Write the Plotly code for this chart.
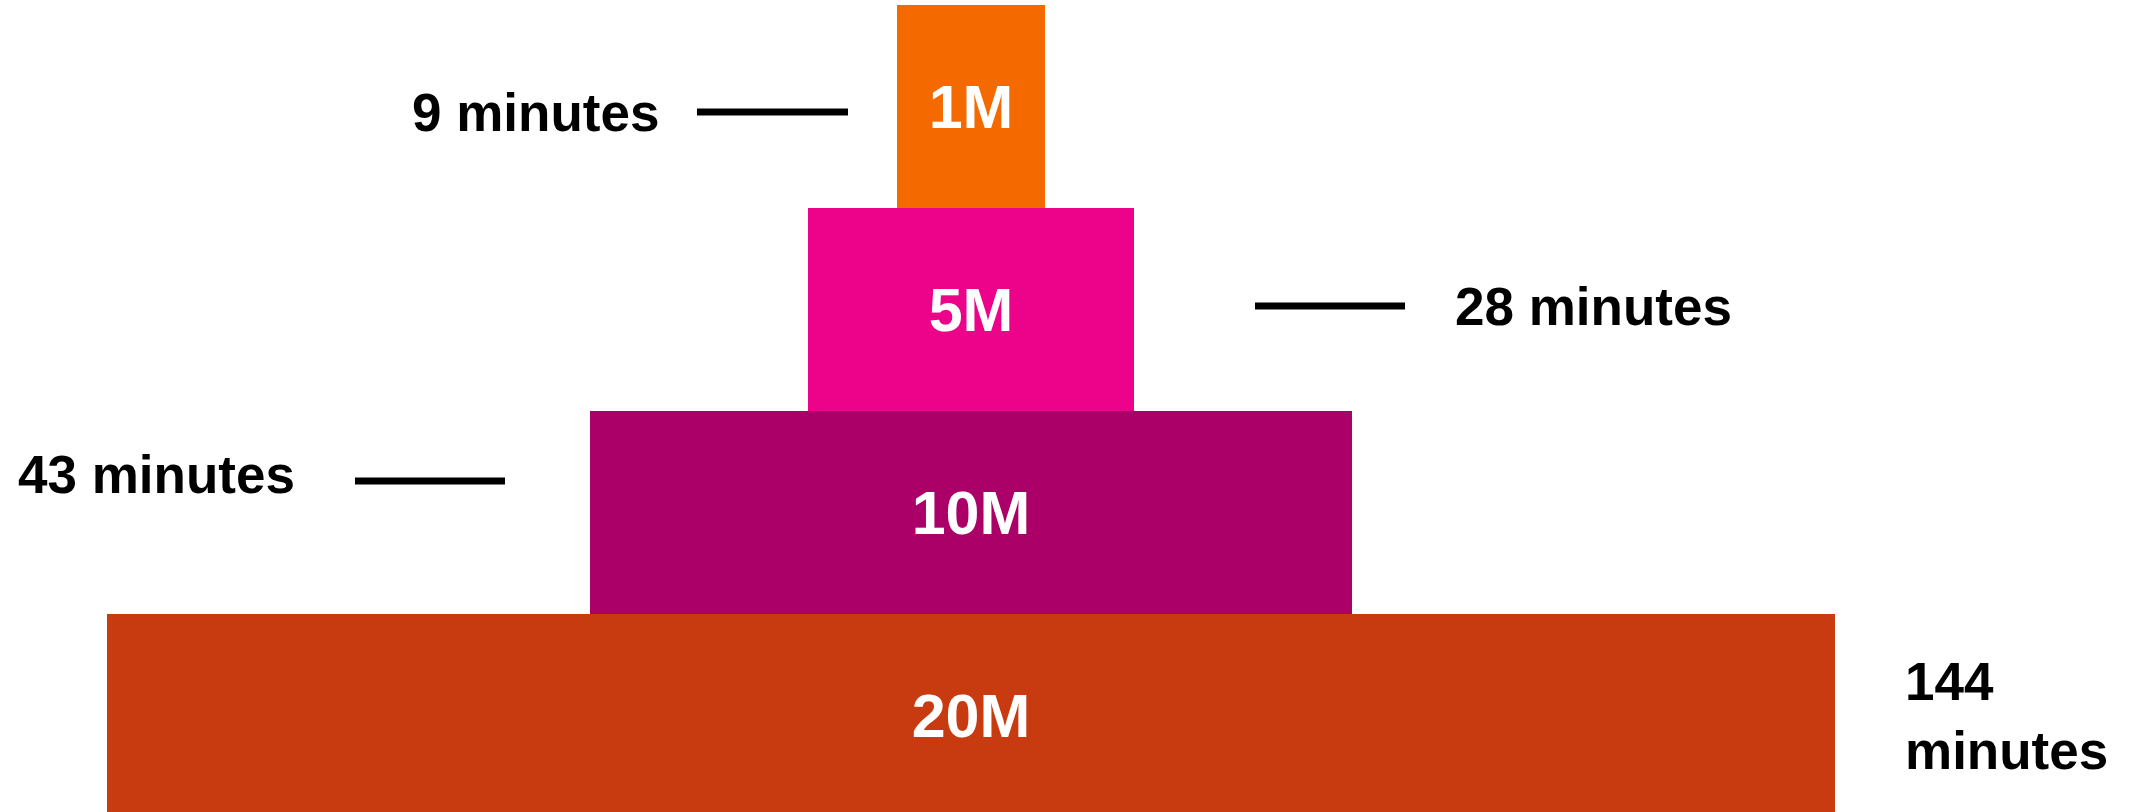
import plotly.graph_objects as go

# ---- data ----
categories = ["1M", "5M", "10M", "20M"]
minutes = [9, 28, 43, 144]
bar_width = [1.48, 3.26, 7.62, 17.28]          # relative widths of the pyramid steps
bar_colors = ["#F46A00", "#EC038A", "#AA0068", "#C83B10"]

W, H = 2134, 812

fig = go.Figure()
fig.add_trace(go.Bar(
    y=categories,
    x=bar_width,
    base=[-w / 2 for w in bar_width],
    orientation="h",
    marker=dict(color=bar_colors, line=dict(width=0)),
    text=categories,
    textposition="inside",
    insidetextanchor="middle",
    textangle=0,
    textfont=dict(family="Liberation Sans, Arial, sans-serif", size=61, color="white", weight="bold"),
    hoverinfo="skip",
    cliponaxis=False,
))

# time labels (side annotations) and their connector lines
label_font = dict(family="Liberation Sans, Arial, sans-serif", size=53, color="black", weight="bold")
labels = [f"{m} minutes" for m in minutes]

# (x_px, y_px, xanchor) per label
label_pos = [(661, 112, "right"), (1453, 306, "left"), (16, 474, "left"), (1903, 716, "left")]
line_pos = [(697, 848, 112), (1255, 1405, 306), (355, 505, 481)]

for i, (txt, (px, py, anc)) in enumerate(zip(labels, label_pos)):
    if i == 3:
        txt = txt.replace(" ", "<br>")
    fig.add_annotation(
        x=px / W, y=1 - py / H, xref="paper", yref="paper",
        text=txt, showarrow=False, xanchor=anc, yanchor="middle",
        align="left", font=label_font,
    )

for x0, x1, py in line_pos:
    fig.add_shape(
        type="line", xref="paper", yref="paper",
        x0=x0 / W, x1=x1 / W, y0=1 - py / H, y1=1 - py / H,
        line=dict(color="black", width=7),
    )

center_px = 971
fig.update_layout(
    width=W, height=H,
    margin=dict(l=0, r=0, t=0, b=0),
    paper_bgcolor="white", plot_bgcolor="white",
    showlegend=False,
    bargap=0,
    xaxis=dict(range=[-center_px / 100, (W - center_px) / 100], visible=False, fixedrange=True),
    yaxis=dict(range=[3.4754, -0.5246], visible=False, fixedrange=True,
               categoryorder="array", categoryarray=categories),
)

fig.write_html(
    "out.html",
    config={"displayModeBar": False},
    post_script="document.body.style.margin='0px';document.body.style.overflow='hidden';",
)
